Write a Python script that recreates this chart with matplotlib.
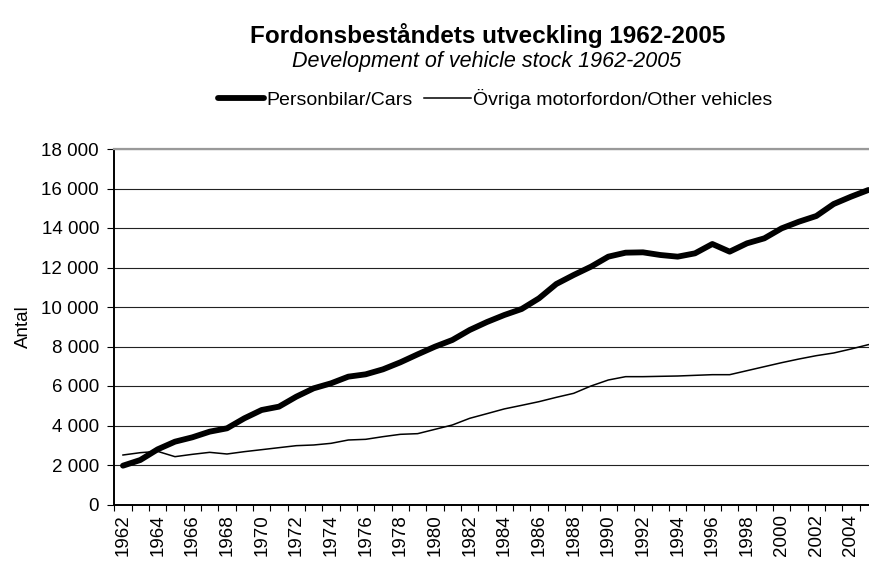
import matplotlib
matplotlib.use("Agg")
import matplotlib.pyplot as plt
from matplotlib.ticker import FixedLocator, FuncFormatter

plt.rcParams['font.family'] = ['Liberation Sans', 'DejaVu Sans']

years = list(range(1962, 2006))
cars = [1966, 2253, 2793, 3181, 3401, 3688, 3857, 4363, 4785, 4954, 5460,
        5882, 6135, 6473, 6591, 6844, 7198, 7603, 7992, 8329, 8835, 9240,
        9595, 9899, 10439, 11165, 11620, 12042, 12549, 12751, 12768, 12633,
        12549, 12717, 13190, 12802, 13224, 13477, 13983, 14321, 14608, 15215,
        15586, 15924]
other = [2506, 2624, 2690, 2422, 2540, 2641, 2557, 2675, 2776, 2878, 2979,
         3013, 3097, 3266, 3300, 3435, 3553, 3587, 3806, 4025, 4363, 4600,
         4840, 5021, 5207, 5426, 5629, 6000, 6304, 6473, 6473, 6490, 6506,
         6540, 6573, 6573, 6776, 6979, 7181, 7367, 7536, 7671, 7873, 8093]
yticks = [0, 2000, 4000, 6000, 8000, 10000, 12000, 14000, 16000, 18000]

title = "Fordonsbeståndets utveckling 1962-2005"
subtitle = "Development of vehicle stock 1962-2005"
label_cars = "Personbilar/Cars"
label_other = "Övriga motorfordon/Other vehicles"

W, H = 869, 561
fig = plt.figure(figsize=(W / 100, H / 100), dpi=100)
left, right, top, bottom = 114.3, 877.0, 149.0, 504.5
ax = fig.add_axes([left / W, 1 - bottom / H, (right - left) / W, (bottom - top) / H])

x = list(range(len(years)))
l1, = ax.plot(x, cars, color='black', lw=4.2, solid_joinstyle='round',
              solid_capstyle='round', label=label_cars, zorder=3, clip_on=False)
l2, = ax.plot(x, other, color='black', lw=1.1, solid_joinstyle='round',
              label=label_other, zorder=3)

ax.set_xlim(-0.5, len(years) - 0.5)
ax.set_ylim(0, 18000)

ax.yaxis.set_major_locator(FixedLocator(yticks))
ax.yaxis.set_major_formatter(FuncFormatter(lambda v, p: f"{int(v):,}".replace(",", " ")))
ax.grid(axis='y', color='#222222', lw=0.8, zorder=1)
ax.set_axisbelow(True)

even_idx = [i for i, y in enumerate(years) if y % 2 == 0]
ax.set_xticks(even_idx)
ax.set_xticklabels([str(years[i]) for i in even_idx], rotation=90)
ax.set_xticks([i - 0.5 for i in range(len(years) + 1)], minor=True)
ax.tick_params(axis='x', which='major', length=0, pad=7, labelsize=13.5)
ax.tick_params(axis='x', which='minor', length=4.5, width=0.8, direction='out')
ax.tick_params(axis='y', which='major', length=5, width=0.8, pad=6, labelsize=13.5)

for s in ['left', 'bottom']:
    ax.spines[s].set_color('black')
    ax.spines[s].set_linewidth(1.4)
ax.spines['right'].set_visible(False)
ax.spines['top'].set_color('#999999')
ax.spines['top'].set_linewidth(1.6)

ax.set_ylabel("Antal", fontsize=13.5, labelpad=7)

fig.text(487.5 / W, 1 - 35 / H, title, ha='center', va='center',
         fontsize=17.5, fontweight='bold')
fig.text(487 / W, 1 - 61 / H, subtitle, ha='center', va='center',
         fontsize=15.5, style='italic')

fig.legend(handles=[l1, l2], loc='center', bbox_to_anchor=(495 / W, 1 - 99 / H),
           ncol=2, frameon=False, fontsize=14, handlelength=2.4,
           handletextpad=0.1, columnspacing=0.6, borderpad=0)

fig.savefig("out.png", dpi=100)
